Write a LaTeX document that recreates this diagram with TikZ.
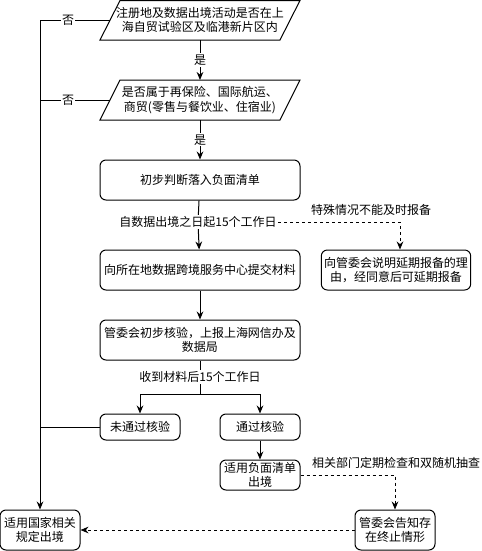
\documentclass[tikz,border=0pt]{standalone}
\usepackage{fontspec}
\setmainfont{Noto Sans CJK SC}
\usetikzlibrary{arrows.meta}
\begin{document}
\begin{tikzpicture}[x=0.75pt,y=-0.75pt,
  every node/.style={font=\fontsize{9}{11}\selectfont, inner sep=1pt, align=center},
  box/.style={draw, rounded corners=4.5pt, line width=0.75pt},
  line/.style={line width=0.75pt},
  arr/.style={line, -{Stealth[length=6pt,width=5pt]}},
  darr/.style={arr, dashed, dash pattern=on 2.25pt off 2.25pt},
  lbl/.style={fill=white, inner sep=1pt}]
\useasboundingbox (0,0) rectangle (482,551);
% decision parallelograms
\draw[line] (120,0.5) -- (300,0.5) -- (280,40) -- (100,40) -- cycle;
\node (d1) at (200,20) {注册地及数据出境活动是否在上\\海自贸试验区及临港新片区内};
\coordinate (d1w) at (110,20);
\draw[line] (120,80) -- (300,80) -- (280,120) -- (100,120) -- cycle;
\node (d2) at (200,100) {是否属于再保险、国际航运、\\商贸(零售与餐饮业、住宿业)};
\coordinate (d2w) at (110,100);
\coordinate (d1s) at (200,40);
\coordinate (d2n) at (200,80);
\coordinate (d2s) at (200,120);
% boxes
\node[box, minimum width=150pt, minimum height=30pt] (b1) at (200,180) {初步判断落入负面清单};
\node[box, minimum width=150pt, minimum height=30pt] (b2) at (200,270) {向所在地数据跨境服务中心提交材料};
\node[box, minimum width=112pt, minimum height=30pt] (r1) at (396,270) {向管委会说明延期报备的理\\由，经同意后可延期报备};
\node[box, minimum width=150pt, minimum height=30pt] (b3) at (200,340) {管委会初步核验，上报上海网信办及\\数据局};
\node[box, minimum width=60pt, minimum height=19.5pt] (f1) at (140,427) {未通过核验};
\node[box, minimum width=60pt, minimum height=19.5pt] (p1) at (260,427) {通过核验};
\node[box, minimum width=60pt, minimum height=22.5pt, inner sep=0pt] (p2) at (260,475) {适用负面清单\\出境};
\node[box, minimum width=60pt, minimum height=30pt] (e1) at (40,530) {适用国家相关\\规定出境};
\node[box, minimum width=60pt, minimum height=30pt] (e2) at (395,530) {管委会告知存\\在终止情形};
% yes arrows
\draw[arr] (d1s) -- node[lbl] (y1) {是} (d2n);
\draw[arr] (d2s) -- node[lbl] (y2) {是} (b1);
% no connectors
\coordinate (nL) at (40,20);
\draw[line] (d1w) -- node[lbl, pos=0.6] (n1) {否} (nL);
\draw[line] (d2w) -- node[lbl, pos=0.6] (n2) {否} (40,100);
\draw[arr] (nL) -- (e1);
\draw[line] (f1.west) -- (40,427);
% b1 -> b2 with label
\node[lbl] (l1) at (198,222) {自数据出境之日起15个工作日};
\draw[line] (b1) -- (l1);
\draw[arr] (l1) -- (b2);
\coordinate (c1) at (400,222);
\draw[darr] (l1.east) -- (c1) -- (c1 |- r1.north);
\node (l2) at (371,210) {特殊情况不能及时报备};
% b2 -> b3
\draw[arr] (b2) -- (b3);
% b3 -> split
\node[lbl] (l3) at (200,377) {收到材料后15个工作日};
\draw[line] (b3) -- (l3);
\coordinate (sp) at (200,394);
\draw[line] (l3) -- (sp);
\draw[arr] (sp) -| (f1.north);
\draw[arr] (sp) -| (p1.north);
% pass
\draw[arr] (p1) -- (p2);
\draw[darr] (p2.east) -| (e2.north);
\node (l4) at (396,463) {相关部门定期检查和双随机抽查};
\draw[darr] (e2) -- (e1);
\end{tikzpicture}
\end{document}
